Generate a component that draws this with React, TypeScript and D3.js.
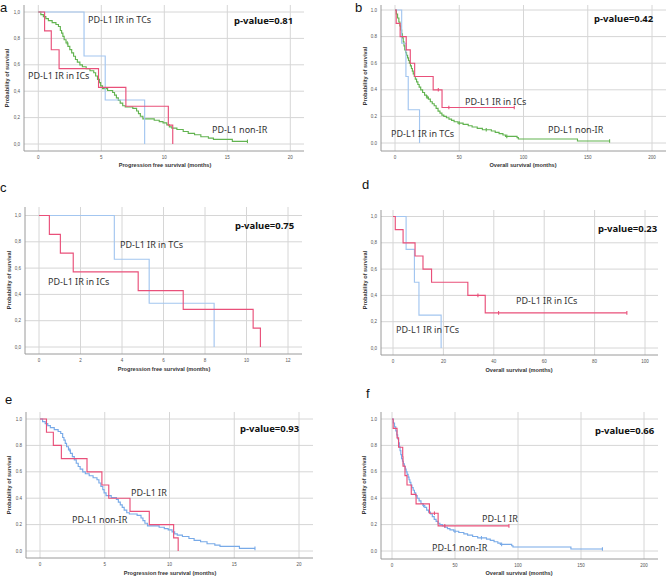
import React from 'react';
import * as d3 from 'd3';

// ---------------- data ----------------
// PFS, PD-L1 IR in ICs
const pfsIcTimes = [0, 0.5, 1.03, 1.65, 4.78, 6.95, 10.32, 10.67];
const pfsIcSurv = [1, 0.857, 0.714, 0.571, 0.429, 0.286, 0.143, 0];
// PFS, PD-L1 IR in TCs
const pfsTcTimes = [0, 3.63, 5.31, 8.44];
const pfsTcSurv = [1, 0.667, 0.333, 0];
// PFS, PD-L1 IR (all)
const pfsIrTimes = [0, 0.5, 1.03, 1.65, 3.63, 4.78, 5.31, 6.95, 8.44, 10.32, 10.67];
const pfsIrSurv = [1, 0.9, 0.8, 0.7, 0.6, 0.5, 0.4, 0.3, 0.2, 0.1, 0];
// PFS, PD-L1 non-IR
const pfsNonIrTimes = [0, 0.2, 0.4, 0.6, 0.8, 1.1, 1.4, 1.6, 1.75, 1.85, 1.95, 2.05, 2.2, 2.35, 2.5, 2.65, 2.8, 2.95, 3.1, 3.3, 3.5, 3.8, 4.1, 4.4, 4.55, 4.7, 4.85, 4.95, 5.1, 5.5, 5.9, 6.05, 6.2, 6.35, 6.5, 6.7, 6.9, 7.5, 7.8, 7.95, 8.1, 8.3, 9.2, 9.6, 9.9, 10.2, 10.4, 10.6, 11.0, 11.5, 11.9, 12.4, 12.9, 13.5, 13.9, 15.4];
const pfsNonIrSurv = [1, 0.98, 0.965, 0.95, 0.935, 0.92, 0.905, 0.89, 0.86, 0.84, 0.815, 0.79, 0.765, 0.74, 0.715, 0.69, 0.665, 0.64, 0.62, 0.6, 0.585, 0.57, 0.555, 0.54, 0.515, 0.49, 0.465, 0.44, 0.42, 0.405, 0.39, 0.37, 0.35, 0.33, 0.31, 0.29, 0.28, 0.27, 0.25, 0.23, 0.21, 0.19, 0.18, 0.17, 0.16, 0.145, 0.13, 0.12, 0.11, 0.095, 0.08, 0.07, 0.055, 0.045, 0.035, 0.02];
const pfsNonIrEnd = 16.6;
const pfsNonIrCensor = [2.3, 16.6];

// OS, PD-L1 IR in TCs
const osTcTimes = [0, 5.2, 8.5, 10.3, 19.1];
const osTcSurv = [1, 0.75, 0.5, 0.25, 0];
// OS, PD-L1 IR in ICs
const osIcTimes = [0, 0.9, 4.0, 8.75, 11.9, 15.3, 29.7, 36.6];
const osIcSurv = [1, 0.9, 0.8, 0.7, 0.6, 0.5, 0.4, 0.267];
const osIcEnd = 92.8;
const osIcCensor = [33.7, 41.9, 92.8];
// OS, PD-L1 IR (all)
const osIrTimes = [0, 0.9, 4.0, 5.2, 8.5, 8.75, 10.3, 11.9, 15.3, 19.1, 29.7, 36.6];
const osIrSurv = [1, 0.929, 0.857, 0.786, 0.714, 0.643, 0.571, 0.5, 0.429, 0.357, 0.286, 0.19];
const osIrEnd = 92.8;
const osIrCensor = [33.7, 41.9, 92.8];
// OS, PD-L1 non-IR
const osNonIrTimes = [0, 1, 2, 3, 3.8, 4.5, 5.2, 5.8, 6.4, 7, 7.6, 8.3, 9, 9.8, 10.5, 11.2, 12, 12.8, 13.5, 14.2, 15, 15.8, 16.8, 17.8, 18.8, 20, 21.5, 23, 24.5, 26, 27.5, 29, 30.5, 32, 33.5, 35, 36.5, 38, 40, 42, 44, 46, 49, 53, 57, 60, 64, 68, 75, 78, 81, 84, 86, 95, 96, 142];
const osNonIrSurv = [1, 0.97, 0.94, 0.91, 0.88, 0.85, 0.82, 0.79, 0.76, 0.73, 0.7, 0.68, 0.66, 0.64, 0.62, 0.6, 0.58, 0.56, 0.54, 0.52, 0.5, 0.48, 0.46, 0.44, 0.42, 0.4, 0.38, 0.36, 0.345, 0.33, 0.31, 0.295, 0.28, 0.26, 0.24, 0.225, 0.21, 0.2, 0.19, 0.18, 0.17, 0.16, 0.15, 0.14, 0.13, 0.12, 0.11, 0.1, 0.09, 0.08, 0.07, 0.06, 0.05, 0.04, 0.03, 0.015];
const osNonIrEnd = 167;
const osNonIrCensor = [25, 50, 71, 87, 167];

const pfsTicksA = [0, 5, 10, 15, 20];
const pfsTicksC = [0, 2, 4, 6, 8, 10, 12];
const osTicksB = [0, 50, 100, 150, 200];
const osTicksD = [0, 20, 40, 60, 80, 100];
const yTicks = [0, 0.2, 0.4, 0.6, 0.8, 1.0];

const pValues = ['0.81', '0.42', '0.75', '0.23', '0.93', '0.66'];

// ---------------- styling ----------------
const RED = '#e9507a';
const BLUE_LIGHT = '#a3c6f0';
const BLUE = '#78aae8';
const GREEN = '#62b350';

type Series = { times: number[]; surv: number[]; end?: number; censor?: number[]; color: string };

const stepValue = (times: number[], surv: number[], t: number) => {
  const i = d3.bisectRight(times, t) - 1;
  return surv[Math.max(0, i)];
};

type PanelCfg = {
  letter: string; letterX: number; letterY: number;
  left: number; top: number; right: number; bottom: number;
  x0: number; x1: number; xMax: number; xTicks: number[];
  y1px: number; y0px: number; comma: boolean;
  xTitle: string; xTitleX: number; xTitleY: number;
  yTitleX: number; yTitleY: number;
  series: Series[];
  labels: { text: string; x: number; y: number }[];
  pval: { text: string; x: number; y: number };
};

const Panel: React.FC<{ cfg: PanelCfg }> = ({ cfg }) => {
  const x = d3.scaleLinear().domain([0, cfg.xMax]).range([cfg.x0, cfg.x1]);
  const y = d3.scaleLinear().domain([0, 1]).range([cfg.y0px, cfg.y1px]);
  const line = d3
    .line<[number, number]>()
    .x((d) => x(d[0]))
    .y((d) => y(d[1]))
    .curve(d3.curveStepAfter);
  const fmt = (v: number) => {
    const s = v.toFixed(1);
    return cfg.comma ? s.replace('.', ',') : s;
  };
  return (
    <g>
      <text x={cfg.letterX} y={cfg.letterY} fontFamily="Liberation Sans, Arial, sans-serif" fontSize={13} fill="#111">
        {cfg.letter}
      </text>
      {/* grid */}
      {yTicks.map((t) => (
        <line key={'gy' + t} x1={cfg.left} x2={cfg.right} y1={y(t)} y2={y(t)} stroke="#d6d6d6" strokeWidth={1} />
      ))}
      {cfg.xTicks.map((t) => (
        <line key={'gx' + t} x1={x(t)} x2={x(t)} y1={cfg.top} y2={cfg.bottom} stroke="#d6d6d6" strokeWidth={1} />
      ))}
      {/* axes */}
      <line x1={cfg.left} x2={cfg.left} y1={cfg.top} y2={cfg.bottom} stroke="#9a9a9a" strokeWidth={1} />
      <line x1={cfg.left} x2={cfg.right} y1={cfg.bottom} y2={cfg.bottom} stroke="#9a9a9a" strokeWidth={1} />
      {/* tick labels */}
      {yTicks.map((t) => (
        <text key={'ty' + t} x={cfg.left - 4} y={y(t)} dy="0.35em" textAnchor="end" fontFamily="Liberation Sans, Arial, sans-serif" fontSize={4.5} fill="#555">
          {fmt(t)}
        </text>
      ))}
      {cfg.xTicks.map((t) => (
        <text key={'tx' + t} x={x(t)} y={cfg.bottom + 6} dy="0.35em" textAnchor="middle" fontFamily="Liberation Sans, Arial, sans-serif" fontSize={4.5} fill="#555">
          {t}
        </text>
      ))}
      {/* axis titles */}
      <text x={cfg.xTitleX} y={cfg.xTitleY} textAnchor="middle" fontFamily="Liberation Sans, Arial, sans-serif" fontSize={5.6} fontWeight="bold" fill="#333">
        {cfg.xTitle}
      </text>
      <text
        transform={`translate(${cfg.yTitleX},${cfg.yTitleY}) rotate(-90)`}
        textAnchor="middle"
        dy="0.35em"
        fontFamily="Liberation Sans, Arial, sans-serif"
        fontSize={5.6}
        fontWeight="bold"
        fill="#333"
      >
        Probability of survival
      </text>
      {/* curves */}
      {cfg.series.map((s, i) => {
        const pts: [number, number][] = s.times.map((t, k) => [t, s.surv[k]] as [number, number]);
        const last = s.times[s.times.length - 1];
        if (s.end !== undefined && s.end > last) pts.push([s.end, s.surv[s.surv.length - 1]]);
        return (
          <g key={'s' + i}>
            <path d={line(pts) || ''} fill="none" stroke={s.color} strokeWidth={1.15} />
            {(s.censor || []).map((c, k) => {
              const v = stepValue(s.times, s.surv, c);
              return (
                <line key={'c' + k} x1={x(c)} x2={x(c)} y1={y(v) - 1.8} y2={y(v) + 1.8} stroke={s.color} strokeWidth={1.1} />
              );
            })}
          </g>
        );
      })}
      {/* labels */}
      {cfg.labels.map((l, i) => (
        <text key={'l' + i} x={l.x} y={l.y} fontFamily="Noto Sans, sans-serif" fontSize={9} fill="#333">
          {l.text}
        </text>
      ))}
      <text x={cfg.pval.x} y={cfg.pval.y} fontFamily="Noto Sans, sans-serif" fontSize={9.5} fontWeight="bold" fill="#111">
        {cfg.pval.text}
      </text>
    </g>
  );
};

const pfsNonIr = (color: string): Series => ({ times: pfsNonIrTimes, surv: pfsNonIrSurv, end: pfsNonIrEnd, censor: pfsNonIrCensor, color });
const osNonIr = (color: string): Series => ({ times: osNonIrTimes, surv: osNonIrSurv, end: osNonIrEnd, censor: osNonIrCensor, color });

const panels: PanelCfg[] = [
  {
    letter: 'a', letterX: 0, letterY: 12,
    left: 24, top: 5, right: 304, bottom: 151,
    x0: 38.3, x1: 290.3, xMax: 20, xTicks: pfsTicksA,
    y1px: 12, y0px: 144, comma: true,
    xTitle: 'Progression free survival (months)', xTitleX: 165, xTitleY: 167,
    yTitleX: 7.5, yTitleY: 78,
    series: [
      pfsNonIr(GREEN),
      { times: pfsTcTimes, surv: pfsTcSurv, color: BLUE_LIGHT },
      { times: pfsIcTimes, surv: pfsIcSurv, color: RED },
    ],
    labels: [
      { text: 'PD-L1 IR in TCs', x: 88, y: 23 },
      { text: 'PD-L1 IR in ICs', x: 28, y: 79 },
      { text: 'PD-L1 non-IR', x: 212, y: 133 },
    ],
    pval: { text: 'p-value=' + pValues[0], x: 234, y: 24 },
  },
  {
    letter: 'b', letterX: 355, letterY: 12,
    left: 381, top: 5, right: 666, bottom: 151,
    x0: 395, x1: 652, xMax: 200, xTicks: osTicksB,
    y1px: 10, y0px: 143, comma: false,
    xTitle: 'Overall survival (months)', xTitleX: 523, xTitleY: 167,
    yTitleX: 365, yTitleY: 76,
    series: [
      osNonIr(GREEN),
      { times: osTcTimes, surv: osTcSurv, color: BLUE_LIGHT },
      { times: osIcTimes, surv: osIcSurv, end: osIcEnd, censor: osIcCensor, color: RED },
    ],
    labels: [
      { text: 'PD-L1 IR in ICs', x: 465, y: 105 },
      { text: 'PD-L1 IR in TCs', x: 391, y: 137 },
      { text: 'PD-L1 non-IR', x: 548, y: 133 },
    ],
    pval: { text: 'p-value=' + pValues[1], x: 594, y: 22 },
  },
  {
    letter: 'c', letterX: 0, letterY: 192,
    left: 25, top: 207, right: 302, bottom: 354,
    x0: 39, x1: 288, xMax: 12, xTicks: pfsTicksC,
    y1px: 215.5, y0px: 347, comma: true,
    xTitle: 'Progression free survival (months)', xTitleX: 164, xTitleY: 371,
    yTitleX: 9, yTitleY: 280,
    series: [
      { times: pfsTcTimes, surv: pfsTcSurv, color: BLUE_LIGHT },
      { times: pfsIcTimes, surv: pfsIcSurv, color: RED },
    ],
    labels: [
      { text: 'PD-L1 IR in TCs', x: 120, y: 248 },
      { text: 'PD-L1 IR in ICs', x: 48, y: 285 },
    ],
    pval: { text: 'p-value=' + pValues[2], x: 235, y: 229 },
  },
  {
    letter: 'd', letterX: 362, letterY: 189,
    left: 381, top: 210, right: 658, bottom: 355,
    x0: 393, x1: 645, xMax: 100, xTicks: osTicksD,
    y1px: 216.5, y0px: 348, comma: true,
    xTitle: 'Overall survival (months)', xTitleX: 519, xTitleY: 372,
    yTitleX: 365, yTitleY: 280,
    series: [
      { times: osTcTimes, surv: osTcSurv, color: BLUE_LIGHT },
      { times: osIcTimes, surv: osIcSurv, end: osIcEnd, censor: osIcCensor, color: RED },
    ],
    labels: [
      { text: 'PD-L1 IR in ICs', x: 516, y: 304 },
      { text: 'PD-L1 IR in TCs', x: 396, y: 333 },
    ],
    pval: { text: 'p-value=' + pValues[3], x: 598, y: 232 },
  },
  {
    letter: 'e', letterX: 5, letterY: 404,
    left: 26, top: 412, right: 313, bottom: 558,
    x0: 40, x1: 299, xMax: 20, xTicks: pfsTicksA,
    y1px: 419, y0px: 551, comma: false,
    xTitle: 'Progression free survival (months)', xTitleX: 170, xTitleY: 575,
    yTitleX: 9, yTitleY: 485,
    series: [
      pfsNonIr(BLUE),
      { times: pfsIrTimes, surv: pfsIrSurv, color: RED },
    ],
    labels: [
      { text: 'PD-L1 IR', x: 131, y: 496 },
      { text: 'PD-L1 non-IR', x: 72, y: 523 },
    ],
    pval: { text: 'p-value=' + pValues[4], x: 240, y: 432 },
  },
  {
    letter: 'f', letterX: 366, letterY: 398,
    left: 381, top: 412, right: 658, bottom: 559,
    x0: 392, x1: 644, xMax: 200, xTicks: osTicksB,
    y1px: 419, y0px: 551, comma: false,
    xTitle: 'Overall survival (months)', xTitleX: 519, xTitleY: 575,
    yTitleX: 364, yTitleY: 485,
    series: [
      osNonIr(BLUE),
      { times: osIrTimes, surv: osIrSurv, end: osIrEnd, censor: osIrCensor, color: RED },
    ],
    labels: [
      { text: 'PD-L1 IR', x: 482, y: 522 },
      { text: 'PD-L1 non-IR', x: 432, y: 551 },
    ],
    pval: { text: 'p-value=' + pValues[5], x: 595, y: 434 },
  },
];

export default function App() {
  return (
    <svg
      width={666}
      height={577}
      viewBox="0 0 666 577"
      style={{ position: 'absolute', left: 0, top: 0, background: '#fff' }}
    >
      <rect x={0} y={0} width={666} height={577} fill="#fff" />
      {panels.map((p) => (
        <Panel key={p.letter} cfg={p} />
      ))}
    </svg>
  );
}
